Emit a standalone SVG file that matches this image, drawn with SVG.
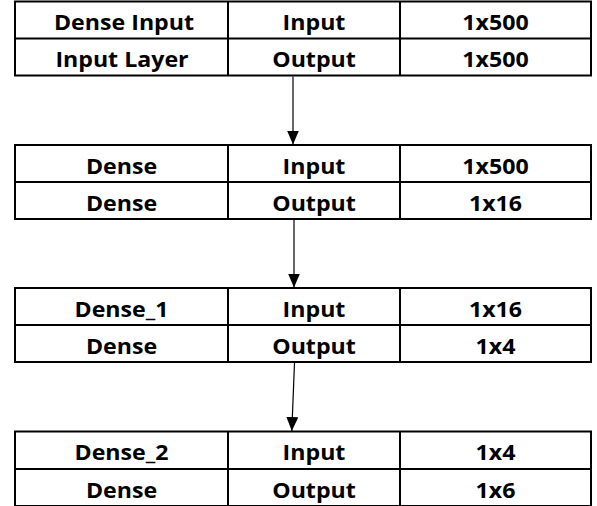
<svg xmlns="http://www.w3.org/2000/svg" width="597" height="506" viewBox="0 0 597 506">
  <style>
    .cell { fill: #ffffff; stroke: #000000; stroke-width: 2; }
    .rule { stroke: #000000; stroke-width: 2; }
    .lbl { font-family: "Open Sans", "Liberation Sans", sans-serif; font-weight: bold; font-size: 20.5px; fill: #000000; text-anchor: middle; }
    .wire { stroke: #000000; stroke-width: 1.2; fill: none; marker-end: url(#head); }
  </style>
  <defs>
    <!-- filled triangular arrowhead, tip at the end of the line -->
    <marker id="head" markerUnits="userSpaceOnUse" markerWidth="14" markerHeight="12" viewBox="0 0 14 12" refX="14" refY="6" orient="auto">
      <path d="M0,0 L14,6 L0,12 Z" fill="#000000"/>
    </marker>
  </defs>
  <rect width="597" height="506" fill="#ffffff"/>

  <!-- layer tables: three columns (name | direction | shape), two rows each -->
  <g id="dense-input">
    <rect class="cell" x="15" y="1.5" width="576" height="74"/>
    <line class="rule" x1="15" y1="38.5" x2="591" y2="38.5"/>
    <line class="rule" x1="228" y1="1.5" x2="228" y2="75.5"/>
    <line class="rule" x1="400" y1="1.5" x2="400" y2="75.5"/>
    <text class="lbl" transform="translate(124 29.5) scale(1.13 1)">Dense Input</text>
    <text class="lbl" transform="translate(314 29.5) scale(1.13 1)">Input</text>
    <text class="lbl" transform="translate(495.5 29.5) scale(1.13 1)">1x500</text>
    <text class="lbl" transform="translate(122 66.7) scale(1.13 1)">Input Layer</text>
    <text class="lbl" transform="translate(314 66.7) scale(1.13 1)">Output</text>
    <text class="lbl" transform="translate(495.5 66.7) scale(1.13 1)">1x500</text>
  </g>

  <g id="dense">
    <rect class="cell" x="15" y="145" width="576" height="74"/>
    <line class="rule" x1="15" y1="182" x2="591" y2="182"/>
    <line class="rule" x1="228" y1="145" x2="228" y2="219"/>
    <line class="rule" x1="400" y1="145" x2="400" y2="219"/>
    <text class="lbl" transform="translate(121.5 173.5) scale(1.13 1)">Dense</text>
    <text class="lbl" transform="translate(314 173.5) scale(1.13 1)">Input</text>
    <text class="lbl" transform="translate(495.5 173.5) scale(1.13 1)">1x500</text>
    <text class="lbl" transform="translate(121.5 210.5) scale(1.13 1)">Dense</text>
    <text class="lbl" transform="translate(314 210.5) scale(1.13 1)">Output</text>
    <text class="lbl" transform="translate(495.5 210.5) scale(1.13 1)">1x16</text>
  </g>

  <g id="dense-1">
    <rect class="cell" x="15" y="288" width="576" height="74"/>
    <line class="rule" x1="15" y1="325" x2="591" y2="325"/>
    <line class="rule" x1="228" y1="288" x2="228" y2="362"/>
    <line class="rule" x1="400" y1="288" x2="400" y2="362"/>
    <text class="lbl" transform="translate(121.5 316.5) scale(1.13 1)">Dense_1</text>
    <text class="lbl" transform="translate(314 316.5) scale(1.13 1)">Input</text>
    <text class="lbl" transform="translate(495.5 316.5) scale(1.13 1)">1x16</text>
    <text class="lbl" transform="translate(121.5 353.5) scale(1.13 1)">Dense</text>
    <text class="lbl" transform="translate(314 353.5) scale(1.13 1)">Output</text>
    <text class="lbl" transform="translate(495.5 353.5) scale(1.13 1)">1x4</text>
  </g>

  <g id="dense-2">
    <rect class="cell" x="15" y="431.5" width="576" height="74.5"/>
    <line class="rule" x1="15" y1="469" x2="591" y2="469"/>
    <line class="rule" x1="228" y1="431.5" x2="228" y2="506"/>
    <line class="rule" x1="400" y1="431.5" x2="400" y2="506"/>
    <text class="lbl" transform="translate(121.5 460) scale(1.13 1)">Dense_2</text>
    <text class="lbl" transform="translate(314 460) scale(1.13 1)">Input</text>
    <text class="lbl" transform="translate(495.5 460) scale(1.13 1)">1x4</text>
    <text class="lbl" transform="translate(121.5 497.5) scale(1.13 1)">Dense</text>
    <text class="lbl" transform="translate(314 497.5) scale(1.13 1)">Output</text>
    <text class="lbl" transform="translate(495.5 497.5) scale(1.13 1)">1x6</text>
  </g>

  <!-- data flow between layers -->
  <g id="connectors">
    <line class="wire" x1="293" y1="76.5" x2="293" y2="144.5"/>
    <line class="wire" x1="294" y1="220" x2="294" y2="287.5"/>
    <line class="wire" x1="294.5" y1="363" x2="291.8" y2="431"/>
  </g>
</svg>
